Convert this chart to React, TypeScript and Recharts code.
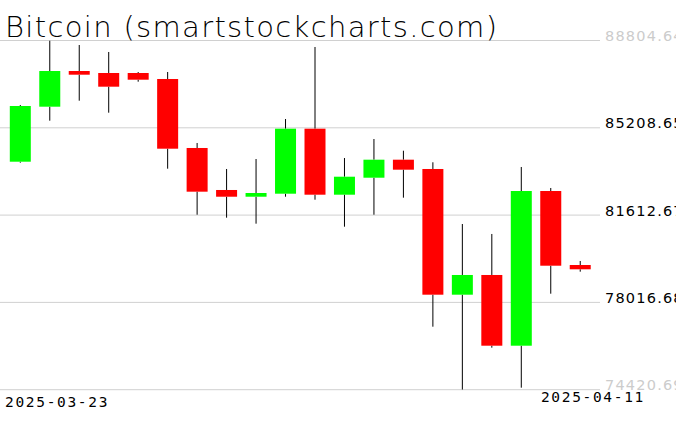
import React from "react";
import { ComposedChart, Bar, XAxis, YAxis, CartesianGrid } from "recharts";

const dates = [
  "2025-03-23", "2025-03-24", "2025-03-25", "2025-03-26", "2025-03-27",
  "2025-03-28", "2025-03-29", "2025-03-30", "2025-03-31", "2025-04-01",
  "2025-04-02", "2025-04-03", "2025-04-04", "2025-04-05", "2025-04-06",
  "2025-04-07", "2025-04-08", "2025-04-09", "2025-04-10", "2025-04-11",
];
const opens = [83812, 86078, 87548, 87466, 87466, 87219, 84377, 82647, 82370, 82494, 85172, 82453, 83153, 83895, 83512, 78334, 79146, 76233, 82605, 79557];
const closes = [86107, 87548, 87396, 86902, 87190, 84348, 82577, 82370, 82523, 85172, 82453, 83194, 83895, 83483, 78334, 79146, 76233, 82605, 79528, 79380];
const highs = [86148, 88804.64, 88619, 88331, 87507, 87507, 84583, 83512, 83923, 85571, 88537, 83964, 84747, 84265, 83788, 81246, 80835, 83594, 82729, 79722];
const lows = [83771, 85501, 86325, 85831, 87108, 83524, 81629, 81506, 81259, 82370, 82247, 81135, 81629, 82330, 77016, 74420.69, 76151, 74503, 78375, 79282];

const yTicks = [74420.69, 78016.68, 81612.67, 85208.65, 88804.64];
const yTickLabels = ["74420.69", "78016.68", "81612.67", "85208.65", "88804.64"];
const xTickLabels = ["2025-03-23", "2025-04-11"];
const title = "Bitcoin (smartstockcharts.com)";

const data = dates.map((d, i) => ({
  date: d,
  open: opens[i],
  close: closes[i],
  high: highs[i],
  low: lows[i],
  range: [lows[i], highs[i]],
}));

const MONO = "'DejaVu Sans Mono', monospace";
const SANS = "'DejaVu Sans', sans-serif";

const Candle = (props: any) => {
  const { x, y, width, height, payload } = props;
  const { open, close, high, low } = payload;
  const ppu = height / (high - low || 1);
  const up = close >= open;
  const top = Math.max(open, close);
  const bot = Math.min(open, close);
  const bodyTop = y + (high - top) * ppu;
  const bodyBot = y + (high - bot) * ppu;
  const cx = x + width / 2;
  return (
    <g>
      <line x1={cx} x2={cx} y1={y} y2={bodyTop} stroke="#000" strokeWidth={1} />
      <line x1={cx} x2={cx} y1={bodyBot} y2={y + height} stroke="#000" strokeWidth={1} />
      <rect x={x} y={bodyTop} width={width} height={Math.max(bodyBot - bodyTop, 1)} fill={up ? "#00ff00" : "#ff0000"} />
    </g>
  );
};

const XTick = (props: any) => {
  const { x, y, index } = props;
  if (index === 0) {
    return (
      <text x={x - 15.5} y={y + 16.8} fontFamily={MONO} fontSize={14.5} letterSpacing={1.67} fill="#000">
        {xTickLabels[0]}
      </text>
    );
  }
  if (index === dates.length - 1) {
    return (
      <text x={x - 39.5} y={y + 11.8} fontFamily={MONO} fontSize={14.5} letterSpacing={1.67} fill="#000">
        {xTickLabels[1]}
      </text>
    );
  }
  return <g />;
};

const YTick = (props: any) => {
  const { x, y, index } = props;
  const faint = index === 0 || index === yTicks.length - 1;
  return (
    <text x={x} y={y + 0.5} fontFamily={SANS} fontSize={14.5} letterSpacing={1.2} fill={faint ? "#cccccc" : "#000"}>
      {yTickLabels[index]}
    </text>
  );
};

export default function App() {
  return (
    <div style={{ position: "absolute", left: 0, top: 0, width: 676, height: 431, background: "#fff" }}>
      <ComposedChart
        width={676}
        height={431}
        data={data}
        margin={{ top: 40.5, right: 0, bottom: 0, left: 0 }}
      >
        <CartesianGrid vertical={false} stroke="#d0d0d0" strokeWidth={1} />
        <XAxis
          dataKey="date"
          padding={{ left: 5.8, right: 4.8 }}
          height={41.3}
          axisLine={false}
          tickLine={false}
          tickSize={0}
          tickMargin={0}
          interval={0}
          tick={<XTick />}
        />
        <YAxis
          orientation="right"
          width={76}
          domain={[yTicks[0], yTicks[yTicks.length - 1]]}
          ticks={yTicks}
          axisLine={false}
          tickLine={false}
          tickSize={0}
          tickMargin={5}
          tick={<YTick />}
          allowDataOverflow
        />
        <Bar dataKey="range" barSize={21} shape={<Candle />} isAnimationActive={false} />
      </ComposedChart>
      <svg width={676} height={50} style={{ position: "absolute", left: 0, top: 0, pointerEvents: "none" }}>
        <text
          x={5}
          y={37}
          fontFamily={SANS}
          fontWeight={200}
          fontSize={29}
          textLength={492}
          lengthAdjust="spacing"
          fill="#000"
        >
          {title}
        </text>
      </svg>
    </div>
  );
}
